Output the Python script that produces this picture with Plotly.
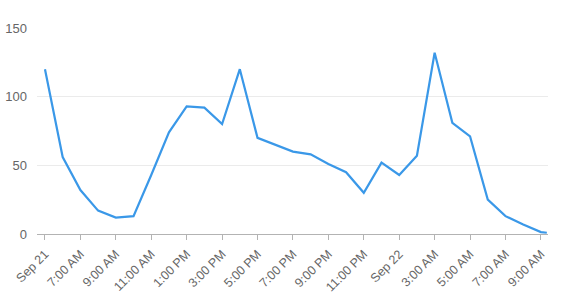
import plotly.graph_objects as go

times = [
    "2023-09-21 05:00", "2023-09-21 06:00", "2023-09-21 07:00", "2023-09-21 08:00",
    "2023-09-21 09:00", "2023-09-21 10:00", "2023-09-21 11:00", "2023-09-21 12:00",
    "2023-09-21 13:00", "2023-09-21 14:00", "2023-09-21 15:00", "2023-09-21 16:00",
    "2023-09-21 17:00", "2023-09-21 18:00", "2023-09-21 19:00", "2023-09-21 20:00",
    "2023-09-21 21:00", "2023-09-21 22:00", "2023-09-21 23:00", "2023-09-22 00:00",
    "2023-09-22 01:00", "2023-09-22 02:00", "2023-09-22 03:00", "2023-09-22 04:00",
    "2023-09-22 05:00", "2023-09-22 06:00", "2023-09-22 07:00", "2023-09-22 08:00",
    "2023-09-22 09:00", "2023-09-22 09:20",
]
values = [120, 56, 32, 17, 12, 13, 43, 74, 93, 92, 80, 120, 70, 65, 60, 58,
          51, 45, 30, 52, 43, 57, 132, 81, 71, 25, 13, 7, 1.4, 0.9]

tick_vals = [
    "2023-09-21 05:00", "2023-09-21 07:00", "2023-09-21 09:00", "2023-09-21 11:00",
    "2023-09-21 13:00", "2023-09-21 15:00", "2023-09-21 17:00", "2023-09-21 19:00",
    "2023-09-21 21:00", "2023-09-21 23:00", "2023-09-22 01:00", "2023-09-22 03:00",
    "2023-09-22 05:00", "2023-09-22 07:00", "2023-09-22 09:00",
]
tick_text = ["Sep 21", "7:00 AM", "9:00 AM", "11:00 AM", "1:00 PM", "3:00 PM",
             "5:00 PM", "7:00 PM", "9:00 PM", "11:00 PM", "Sep 22", "3:00 AM",
             "5:00 AM", "7:00 AM", "9:00 AM"]
y_ticks = [0, 50, 100, 150]

fig = go.Figure(go.Scatter(
    x=times, y=values, mode="lines",
    line=dict(color="#3a98e8", width=2.2),
    hoverinfo="skip",
))

fig.update_layout(
    width=561, height=296,
    margin=dict(l=37, r=13, t=28, b=62, autoexpand=False),
    paper_bgcolor="white", plot_bgcolor="white",
    showlegend=False,
    font=dict(family="Liberation Sans, Arial, sans-serif", size=12, color="#666666"),
)
fig.update_xaxes(
    type="date", automargin=False,
    range=["2023-09-21 04:33", "2023-09-22 09:24"],
    tickmode="array", tickvals=tick_vals, ticktext=tick_text,
    tickangle=-45,
    showgrid=False, zeroline=False,
    showline=True, linecolor="#b3b3b3", linewidth=1,
    ticks="outside", ticklen=5, tickcolor="#b3b3b3",
    ticklabelstandoff=2,
    tickfont=dict(size=12.5, color="#666666"),
)
fig.update_yaxes(
    automargin=False,
    range=[0, 150],
    tickmode="array", tickvals=y_ticks,
    showgrid=True, gridcolor="#ebebeb", gridwidth=1,
    zeroline=False, showline=False,
    ticks="", ticklabelstandoff=9,
    tickfont=dict(size=13, color="#666666"),
)

fig.write_html("out.html")
